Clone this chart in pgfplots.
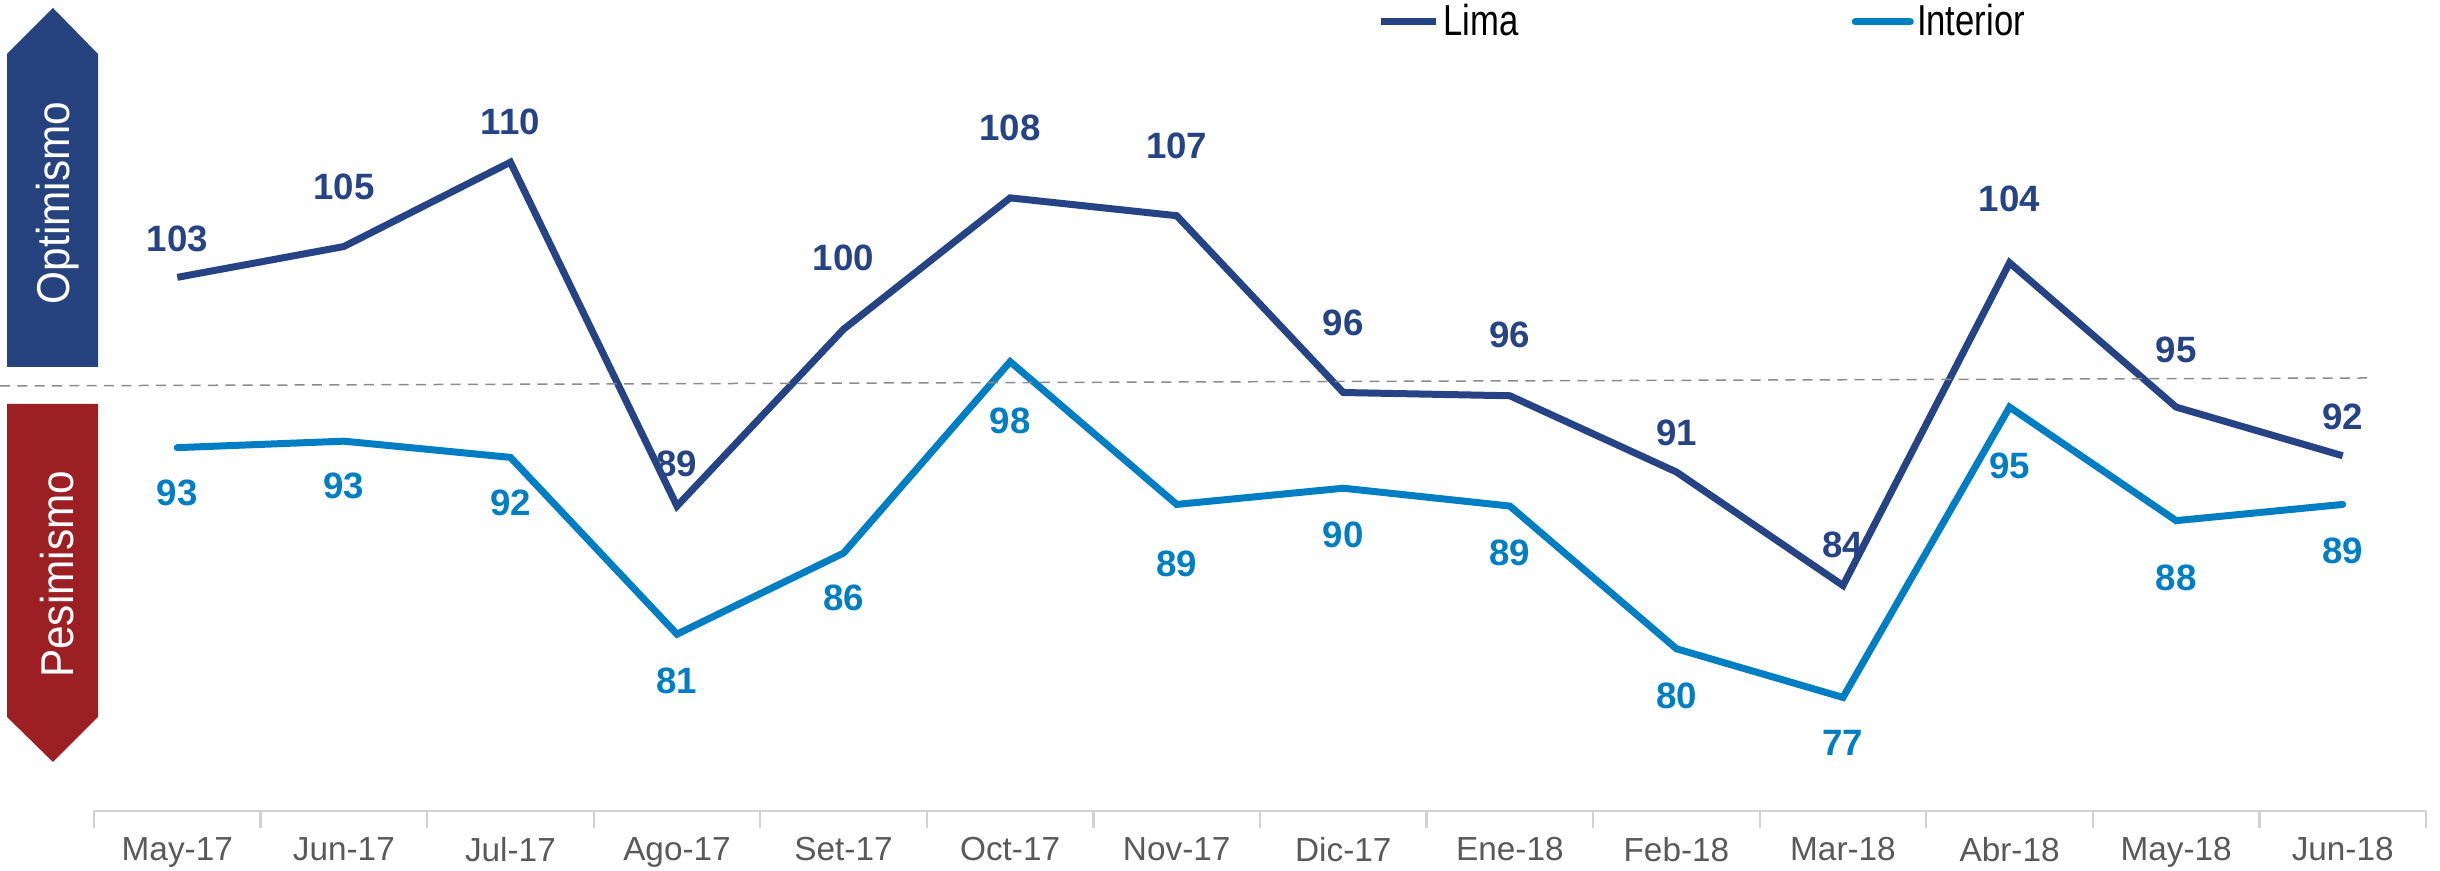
\documentclass[border=0pt]{standalone}
\usepackage{pgfplots}
\pgfplotsset{compat=1.18}
\usepackage{pgfplotstable}
\usepackage{fontspec}
\setmainfont{Liberation Sans}
\newfontfamily\narrowfont{Liberation Sans}[FakeStretch=0.8]
\newfontfamily\arrowfont{Liberation Sans}[FakeStretch=0.92]
\definecolor{lima}{RGB}{38,68,133}
\definecolor{interior}{RGB}{0,126,196}
\definecolor{optblue}{RGB}{39,67,127}
\definecolor{pesred}{RGB}{156,31,36}
\definecolor{ticklab}{RGB}{89,89,89}
\definecolor{axgray}{RGB}{210,210,210}
\definecolor{dashgray}{RGB}{140,140,140}

\pgfplotstableread{
x lima limaoff limalab inter interoff interlab
0  102.9 25 103 92.4 -29 93
1  104.8 38 105 92.8 -29 93
2  110.0 26 110 91.8 -29 92
3  88.8  27 89  80.9 -30 81
4  99.7  46 100 85.9 -29 86
5  107.8 45 108 97.7 -38 98
6  106.7 45 107 88.9 -38 89
7  95.8  45 96  89.9 -30 90
8  95.6  39 96  88.8 -30 89
9  90.9  25 91  80.0 -30 80
10 83.9  26 84  77.0 -29 77
11 103.8 41 104 94.9 -38 95
12 94.9  37 95  87.9 -37 88
13 91.9  25 92  88.9 -30 89
}\data

\begin{document}
\begin{tikzpicture}
\path[use as bounding box] (-28.2pt,-18pt) rectangle (703.8pt,243.3pt);
\begin{axis}[
  at={(0pt,0pt)}, anchor=south west,
  scale only axis,
  width=699.6pt, height=243.3pt,
  xmin=-0.5, xmax=13.5, ymin=70, ymax=120,
  clip=false,
  axis y line=none,
  axis x line*=bottom,
  x axis line style={draw=axgray, line width=0.7pt},
  xtick={0,...,13},
  xticklabels={May-17,Jun-17,Jul-17,Ago-17,Set-17,Oct-17,Nov-17,Dic-17,Ene-18,Feb-18,Mar-18,Abr-18,May-18,Jun-18},
  major tick length=0pt,
  minor xtick={-0.5,0.5,...,13.5},
  minor tick length=5pt,
  tick align=outside,
  minor tick style={draw=axgray, line width=0.7pt},
  xticklabel style={font=\fontsize{10}{11}\selectfont, text=ticklab, yshift=-4.4pt},
  legend columns=2,
  legend style={at={(0.5503,0.973)}, anchor=west, draw=none, fill=none,
    font=\narrowfont\fontsize{13}{14}\selectfont, inner sep=0pt,
    nodes={inner sep=1pt},
    /tikz/every even column/.append style={column sep=99pt}},
  legend image code/.code={\draw[#1, line width=2.1pt] (0pt,0pt) -- (16.5pt,0pt);},
]
\addplot[lima, line width=2.1pt, line join=miter, mark=none]
  table[x=x, y=lima]{\data};
\addlegendentry{Lima}
\addplot[interior, line width=2.1pt, line join=miter, line cap=round, mark=none]
  table[x=x, y=inter]{\data};
\addlegendentry{Interior}
\addplot[draw=none, mark=none, forget plot, nodes near coords, point meta=explicit symbolic,
  every node near coord/.style={anchor=center, font=\bfseries\fontsize{11}{13}\selectfont, text=lima}]
  table[x=x, y expr=\thisrow{lima}+0.096*\thisrow{limaoff}, meta=limalab]{\data};
\addplot[draw=none, mark=none, forget plot, nodes near coords, point meta=explicit symbolic,
  every node near coord/.style={anchor=center, font=\bfseries\fontsize{11}{13}\selectfont, text=interior}]
  table[x=x, y expr=\thisrow{inter}+0.096*\thisrow{interoff}, meta=interlab]{\data};
\end{axis}
% decorations
\fill[optblue] (-26.1pt,133.2pt) -- (-26.1pt,227.1pt) -- (-12.3pt,240.9pt) -- (1.2pt,227.1pt) -- (1.2pt,133.2pt) -- cycle;
\fill[pesred] (-26.1pt,122.1pt) -- (-26.1pt,28.2pt) -- (-12.3pt,14.7pt) -- (1.2pt,28.2pt) -- (1.2pt,122.1pt) -- cycle;
\node[rotate=90, text=white, inner sep=0pt, font=\arrowfont\fontsize{13.8}{15}\selectfont] at (-11pt,182.4pt) {Optimismo};
\node[rotate=90, text=white, inner sep=0pt, font=\arrowfont\fontsize{13.8}{15}\selectfont] at (-11pt,71pt) {Pesimismo};
\draw[dashgray, dashed, line width=0.45pt, dash pattern=on 3pt off 2.2pt] (-28.2pt,127.5pt) -- (681.9pt,129.9pt);
\end{tikzpicture}
\end{document}
